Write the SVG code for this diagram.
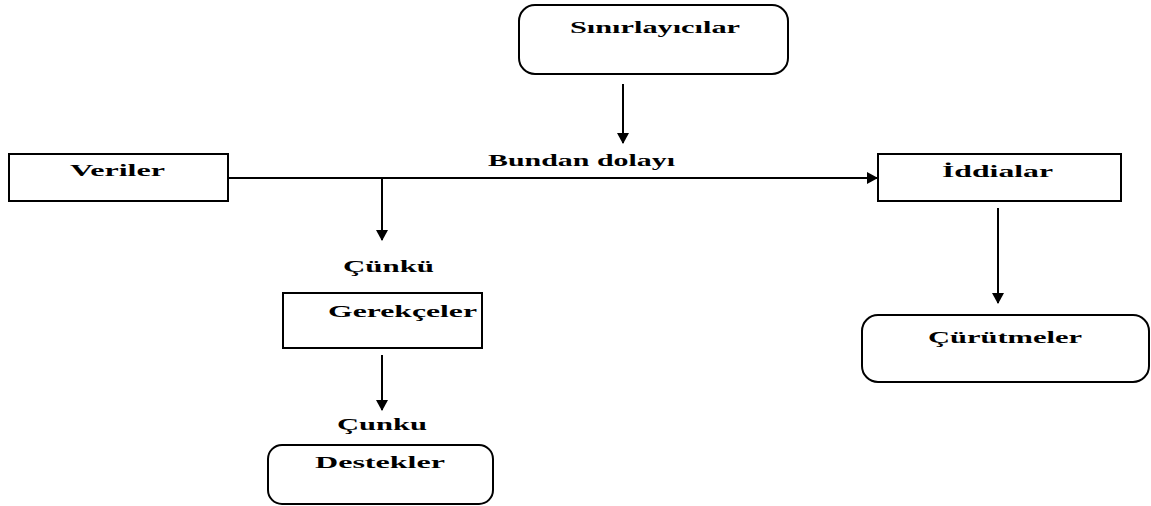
<svg xmlns="http://www.w3.org/2000/svg" width="1151" height="506" viewBox="0 0 1151 506">
<defs>
<marker id="ah" markerWidth="12" markerHeight="12" refX="10" refY="6" orient="auto" markerUnits="userSpaceOnUse">
<path d="M0,0 L11,6 L0,12 Z" fill="#000"/>
</marker>
</defs>
<style>
.box{fill:#fff;stroke:#000;stroke-width:2}
.t{font-family:"Liberation Serif","Times New Roman",serif;font-weight:bold;font-size:17px;fill:#000}
.c{stroke:#000;stroke-width:2;fill:none}
</style>
<rect width="1151" height="506" fill="#fff"/>
<g id="connectors">
<line class="c" x1="228" y1="178" x2="877" y2="178" marker-end="url(#ah)"/>
<line class="c" x1="623" y1="84" x2="623" y2="143" marker-end="url(#ah)"/>
<line class="c" x1="382" y1="178" x2="382" y2="240" marker-end="url(#ah)"/>
<line class="c" x1="382" y1="355" x2="382" y2="410" marker-end="url(#ah)"/>
<line class="c" x1="998" y1="208" x2="998" y2="303" marker-end="url(#ah)"/>
</g>
<g id="n-sinirlayicilar">
<rect class="box" x="519" y="5" width="269" height="69" rx="16"/>
<text class="t" x="570" y="33" textLength="170" lengthAdjust="spacingAndGlyphs">Sınırlayıcılar</text>
</g>
<g id="n-veriler">
<rect class="box" x="9" y="154" width="219" height="47"/>
<text class="t" x="70" y="176" textLength="95" lengthAdjust="spacingAndGlyphs">Veriler</text>
</g>
<g id="l-bundan">
<text class="t" x="488" y="166" textLength="187" lengthAdjust="spacingAndGlyphs">Bundan dolayı</text>
</g>
<g id="n-iddialar">
<rect class="box" x="878" y="154" width="243" height="47"/>
<text class="t" x="942" y="177" textLength="111" lengthAdjust="spacingAndGlyphs">İddialar</text>
</g>
<g id="l-cunku1">
<text class="t" x="343" y="272" textLength="91" lengthAdjust="spacingAndGlyphs">Çünkü</text>
</g>
<g id="n-gerekceler">
<rect class="box" x="283" y="293" width="199" height="55"/>
<text class="t" x="328" y="317" textLength="149" lengthAdjust="spacingAndGlyphs">Gerekçeler</text>
</g>
<g id="l-cunku2">
<text class="t" x="337" y="430" textLength="90" lengthAdjust="spacingAndGlyphs">Çunku</text>
</g>
<g id="n-destekler">
<rect class="box" x="268" y="445" width="225" height="59" rx="14"/>
<text class="t" x="315" y="468" textLength="130" lengthAdjust="spacingAndGlyphs">Destekler</text>
</g>
<g id="n-curutmeler">
<rect class="box" x="862" y="315" width="287" height="67" rx="16"/>
<text class="t" x="928" y="343" textLength="154" lengthAdjust="spacingAndGlyphs">Çürütmeler</text>
</g>
</svg>
